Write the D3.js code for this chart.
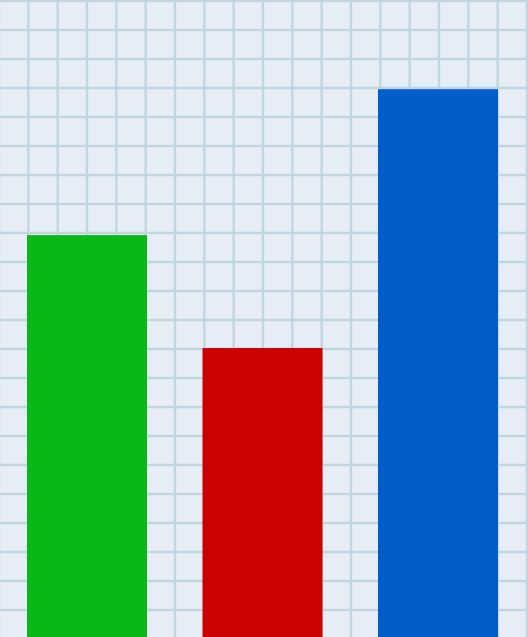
<!DOCTYPE html>
<html><head><meta charset="utf-8">
<script src="https://cdn.jsdelivr.net/npm/d3@7"></script>
<style>html,body{margin:0;padding:0;background:#e6edf5;overflow:hidden}</style>
</head><body>
<svg id="c" width="528" height="637"></svg>
<script>
const categories = ["A", "B", "C"];
const values = [69.4, 49.9, 94.6];
const colors = ["#08b816", "#cc0000", "#005dc9"];
const yMax = 110;

const W = 528, H = 637;
const svg = d3.select("#c");
svg.append("rect").attr("width", W).attr("height", H).attr("fill", "#e6edf5");

// grid
const gx = d3.range(0, 19).map(i => i * W / 18 - 1);
const gy = d3.range(0, 23).map(i => 1 + i * 29);
const g = svg.append("g");
g.selectAll("line.v").data(gx).join("line").attr("class","v")
  .attr("x1", d => d).attr("x2", d => d).attr("y1", 0).attr("y2", H)
  .attr("stroke", "#c2d5df").attr("stroke-width", 2.4);
g.selectAll("line.h").data(gy).join("line").attr("class","h")
  .attr("y1", d => d).attr("y2", d => d).attr("x1", 0).attr("x2", W)
  .attr("stroke", "#c2d5df").attr("stroke-width", 2.4);

const x = d3.scaleBand().domain(categories).range([27, 498]).paddingInner(0.3162).paddingOuter(0);
const y = d3.scaleLinear().domain([0, yMax]).range([H, 0]);

svg.selectAll("rect.bar").data(categories).join("rect").attr("class","bar")
  .attr("x", d => x(d)).attr("width", x.bandwidth())
  .attr("y", (d, i) => y(values[i])).attr("height", (d, i) => H - y(values[i]))
  .attr("fill", (d, i) => colors[i]);
</script>
</body></html>
